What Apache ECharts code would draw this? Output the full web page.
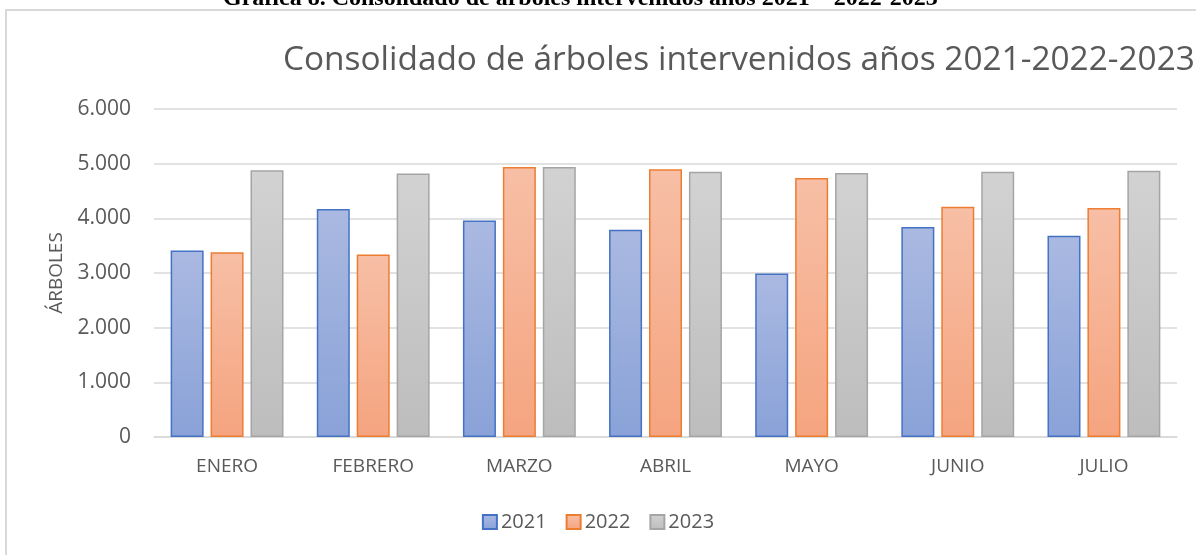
<!DOCTYPE html>
<html>
<head>
<meta charset="utf-8">
<script src="https://cdn.jsdelivr.net/npm/echarts@6/dist/echarts.min.js"></script>
<style>
html,body{margin:0;padding:0;background:#fff;}
#c{width:1196px;height:555px;}
</style>
</head>
<body>
<div id="c"></div>
<script>
const categories = ['ENERO','FEBRERO','MARZO','ABRIL','MAYO','JUNIO','JULIO'];
const seriesNames = ['2021','2022','2023'];
const values2021 = [3410, 4170, 3960, 3790, 2990, 3840, 3680];
const values2022 = [3380, 3340, 4940, 4900, 4740, 4210, 4190];
const values2023 = [4880, 4820, 4940, 4850, 4830, 4850, 4870];
const yTicks = [0, 1000, 2000, 3000, 4000, 5000, 6000];

const chartTitle = 'Consolidado de árboles intervenidos años 2021-2022-2023';
const caption = 'Gráfica 8. Consolidado de árboles intervenidos años 2021 – 2022-2023';
const yName = 'ÁRBOLES';

const font = 'Open Sans';
function grad(top, bottom){
  return new echarts.graphic.LinearGradient(0,0,0,1,[{offset:0,color:top},{offset:1,color:bottom}]);
}
const styles = [
  {fill: grad('#AAB9E1','#8AA2D8'), border:'#4472C4'},
  {fill: grad('#F7BFA6','#F5A47F'), border:'#ED7D31'},
  {fill: grad('#D2D2D2','#BDBDBD'), border:'#A5A5A5'}
];
const allValues = [values2021, values2022, values2023];

const chart = echarts.init(document.getElementById('c'), null, {renderer:'canvas'});
chart.setOption({
  animation:false,
  backgroundColor:'#fff',
  graphic:[
    {type:'rect', shape:{x:6,y:10,width:1200,height:600}, style:{fill:'none',stroke:'#D9D9D9',lineWidth:2}, z:-1},
    {type:'text', left:223, top:-13, style:{text:caption, font:'bold 24px "Liberation Serif"', fill:'#000'}}
  ],
  title:{
    text:chartTitle, left:278, top:39,
    textStyle:{fontFamily:font, fontWeight:'normal', fontSize:33.4, color:'#595959'}
  },
  legend:{
    data:seriesNames, top:507, left:'center', icon:'rect', itemWidth:14, itemHeight:14, itemGap:19,
    textStyle:{fontFamily:font, fontSize:20, color:'#595959', padding:[0,0,0,-1]}
  },
  grid:{left:154, right:19, top:109, bottom:118, containLabel:false},
  xAxis:{
    type:'category', data:categories,
    axisLine:{lineStyle:{color:'#D9D9D9', width:1.5}},
    axisTick:{show:false},
    axisLabel:{fontFamily:font, fontSize:19, color:'#595959', margin:20}
  },
  yAxis:{
    type:'value', min:yTicks[0], max:yTicks[yTicks.length-1], interval:1000,
    name:yName, nameLocation:'middle', nameGap:81, nameRotate:90,
    nameTextStyle:{fontFamily:font, fontSize:19, color:'#595959'},
    axisLine:{show:false}, axisTick:{show:false},
    axisLabel:{fontFamily:font, fontSize:21, color:'#595959', margin:23,
      formatter:v=>v===0?'0':v.toLocaleString('de-DE')},
    splitLine:{lineStyle:{color:'#D9D9D9', width:1.5}}
  },
  series: seriesNames.map((n,i)=>({
    name:n, type:'bar', data:allValues[i],
    barWidth:33, barGap:'21%',
    itemStyle:{color:styles[i].fill, borderColor:styles[i].border, borderWidth:1.5}
  }))
});
</script>
</body>
</html>
